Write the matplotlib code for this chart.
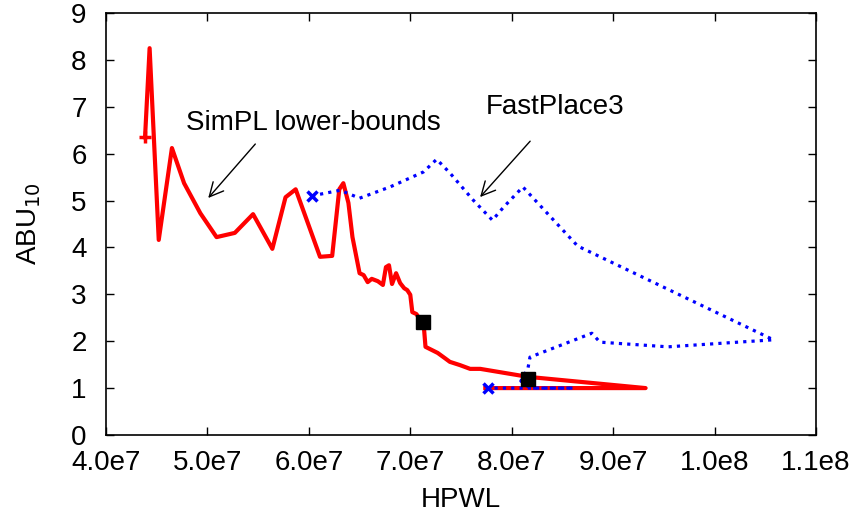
import numpy as np
import matplotlib.pyplot as plt

plt.rcParams['font.family'] = ['Liberation Sans', 'DejaVu Sans']
plt.rcParams['font.size'] = 20

# SimPL lower-bounds (HPWL, ABU10)
simpl_x = [4.385e7, 4.43e7, 4.52e7, 4.65e7, 4.77e7, 4.93e7, 5.09e7, 5.27e7, 5.45e7, 5.64e7,
           5.77e7, 5.87e7, 6.11e7, 6.23e7, 6.30e7, 6.34e7, 6.39e7, 6.43e7, 6.50e7, 6.54e7,
           6.58e7, 6.62e7, 6.68e7, 6.73e7, 6.76e7, 6.79e7, 6.82e7, 6.86e7, 6.90e7, 6.94e7,
           6.97e7, 7.00e7, 7.02e7, 7.06e7, 7.10e7, 7.13e7, 7.15e7, 7.27e7, 7.34e7, 7.39e7,
           7.49e7, 7.59e7, 7.69e7, 8.16e7, 9.32e7, 7.74e7]
simpl_y = [6.35, 8.25, 4.16, 6.12, 5.37, 4.73, 4.22, 4.31, 4.71, 3.97,
           5.07, 5.24, 3.80, 3.82, 5.24, 5.37, 4.95, 4.22, 3.45, 3.41,
           3.26, 3.33, 3.28, 3.20, 3.58, 3.62, 3.22, 3.45, 3.24, 3.13,
           3.09, 2.99, 2.62, 2.58, 2.45, 2.41, 1.88, 1.75, 1.64, 1.56,
           1.49, 1.41, 1.41, 1.24, 1.00, 1.00]

# FastPlace3 (HPWL, ABU10)
fp3_x = [6.03e7, 6.31e7, 6.50e7, 6.80e7, 7.13e7, 7.26e7, 7.39e7, 7.62e7, 7.81e7, 7.92e7,
         8.11e7, 8.65e7, 1.058e8, 9.54e7, 8.87e7, 8.79e7, 8.18e7, 8.16e7, 8.09e7, 8.18e7,
         8.61e7, 7.77e7]
fp3_y = [5.10, 5.22, 5.05, 5.29, 5.61, 5.88, 5.59, 5.01, 4.58, 4.86,
         5.29, 4.03, 2.03, 1.88, 1.98, 2.17, 1.66, 1.42, 1.15, 1.00,
         1.00, 1.00]

# highlighted points
sq_x = [7.13e7, 8.16e7]
sq_y = [2.41, 1.19]

fig = plt.figure(figsize=(8.5, 5.2), dpi=100)
ax = fig.add_axes([0.1247, 0.1635, 0.8353, 0.8115])

ax.plot(simpl_x, simpl_y, color='#ff0000', lw=3)
ax.plot(simpl_x[0], simpl_y[0], marker='+', color='#ff0000', ms=8, mew=2.5)
ax.plot(fp3_x, fp3_y, color='#0000ff', lw=2.3, linestyle=(0, (1, 1.6)))
ax.plot([fp3_x[0], fp3_x[-1]], [fp3_y[0], fp3_y[-1]], linestyle='none',
        marker='x', color='#0000ff', ms=7, mew=2.5)
ax.plot(sq_x, sq_y, linestyle='none', marker='s', color='black', ms=10)

ax.annotate('', xy=(4.99e7, 5.01), xytext=(5.49e7, 6.25),
            arrowprops=dict(arrowstyle='->', color='black', lw=1, mutation_scale=25))
ax.text(6.04e7, 6.66, 'SimPL lower-bounds', ha='center', va='center')
ax.annotate('', xy=(7.67e7, 5.03), xytext=(8.2e7, 6.31),
            arrowprops=dict(arrowstyle='->', color='black', lw=1, mutation_scale=25))
ax.text(8.43e7, 6.99, 'FastPlace3', ha='center', va='center')

ax.set_xlim(4e7, 1.1e8)
ax.set_ylim(0, 9)
xt = np.arange(4e7, 1.1e8 + 1, 1e7)
ax.set_xticks(xt)
ax.set_xticklabels(['4.0e7', '5.0e7', '6.0e7', '7.0e7', '8.0e7', '9.0e7', '1.0e8', '1.1e8'])
ax.set_yticks(range(10))
ax.tick_params(direction='in', top=True, right=True, length=6, width=1)
ax.tick_params(axis='x', pad=11)
ax.tick_params(axis='y', pad=14)
for s in ax.spines.values():
    s.set_linewidth(1.2)

ax.set_xlabel('HPWL', labelpad=8)
ax.set_ylabel('ABU$_{10}$', labelpad=20)

fig.savefig('out.png', dpi=100)
